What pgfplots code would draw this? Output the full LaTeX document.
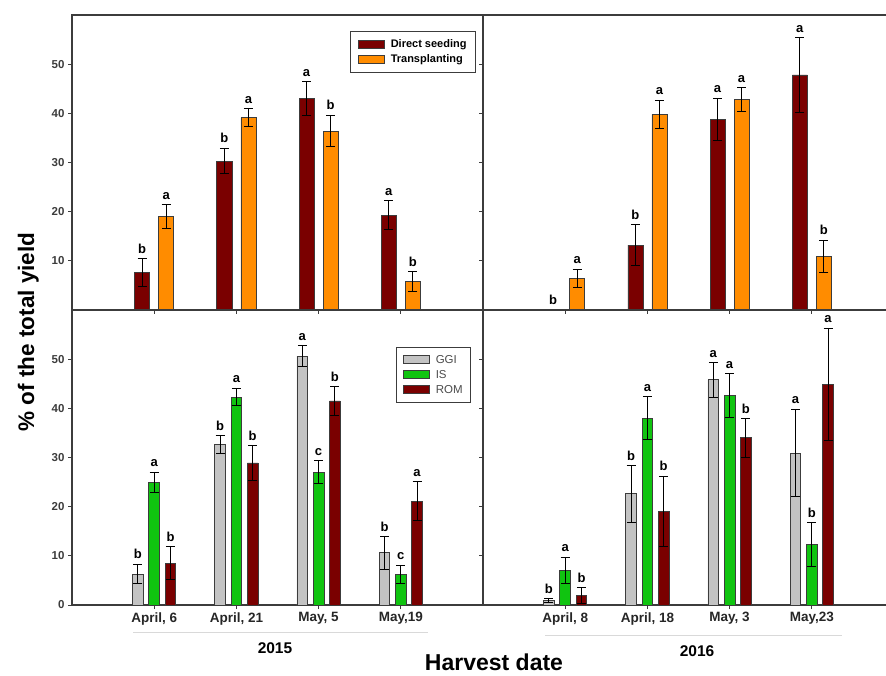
\documentclass[border=0pt]{standalone}
\usepackage{fontspec}
\setmainfont{Liberation Sans}
\usepackage{pgfplots}
\usepackage{pgfplotstable}
\pgfplotsset{compat=1.18}
\definecolor{dsred}{RGB}{122,0,0}
\definecolor{tporange}{RGB}{255,140,0}
\definecolor{ggigray}{RGB}{195,195,195}
\definecolor{isgreen}{RGB}{16,196,16}
\definecolor{axgray}{RGB}{60,60,60}

\pgfplotstableread{
x y e l
1 7.6 2.9 b
2 30.3 2.6 b
3 43.0 3.5 a
4 19.3 2.9 a
}\dsA
\pgfplotstableread{
x y e l
1 19.0 2.4 a
2 39.1 1.8 a
3 36.4 3.2 b
4 5.8 2.0 b
}\tpA
\pgfplotstableread{
x y e l
1 0 0 b
2 13.2 4.2 b
3 38.8 4.3 a
4 47.8 7.6 a
}\dsB
\pgfplotstableread{
x y e l
1 6.4 1.9 a
2 39.8 2.9 a
3 42.8 2.4 a
4 10.9 3.3 b
}\tpB
\pgfplotstableread{
x y e l
1 6.3 2.0 b
2 32.7 1.8 b
3 50.6 2.1 a
4 10.6 3.3 b
}\ggiA
\pgfplotstableread{
x y e l
1 24.9 2.1 a
2 42.3 1.8 a
3 27.0 2.3 c
4 6.2 1.9 c
}\isA
\pgfplotstableread{
x y e l
1 8.5 3.3 b
2 28.9 3.5 b
3 41.5 2.9 b
4 21.1 4.0 a
}\romA
\pgfplotstableread{
x y e l
1 0.9 0.4 b
2 22.6 5.8 b
3 45.8 3.5 a
4 30.9 8.9 a
}\ggiB
\pgfplotstableread{
x y e l
1 7.0 2.7 a
2 38.0 4.4 a
3 42.6 4.5 a
4 12.3 4.4 b
}\isB
\pgfplotstableread{
x y e l
1 1.9 1.6 b
2 19.1 7.1 b
3 34.0 3.9 b
4 44.9 11.4 a
}\romB

\pgfplotsset{
  panel/.style={scale only axis, width=411pt, height=295pt,
    xmin=0, xmax=5, ymin=0, ymax=60, anchor=south west,
    xtick={1,2,3,4}, tick align=outside, xtick pos=bottom, ytick pos=left,
    major tick length=4pt,
    axis line style={axgray, line width=1.1pt},
    tick style={axgray, line width=0.9pt},
    /pgf/number format/assume math mode=true,
    yticklabel style={font=\bfseries\fontsize{11.5}{12}\selectfont, text=axgray},
    xticklabel style={font=\bfseries\fontsize{13.5}{16}\selectfont, text=black!85},
    clip=false,
    legend image code/.code={\draw[#1] (0pt,-4pt) rectangle (26pt,4pt); \path (-1pt,0pt) (30pt,0pt);},
    legend cell align=left,
  },
  bars/.style={ybar, bar width=#1, bar shift=0pt, draw=axgray, line width=0.8pt,
    error bars/y dir=both, error bars/y explicit,
    error bars/error bar style={black, line width=1pt},
    error bars/error mark options={rotate=90, mark size=4.5pt, black, line width=1pt},
    point meta=explicit symbolic, nodes near coords,
    visualization depends on={\thisrow{e} \as \errval},
    every node near coord/.append style={shift={(axis direction cs:0,\errval)},
      font=\bfseries\fontsize{13}{13}\selectfont, text=black, yshift=1.5pt},
  },
}

\begin{document}
\begin{tikzpicture}
\path[use as bounding box] (0,0) rectangle (886pt,675pt);

% top-left: 2015 direct seeding vs transplanting
\begin{axis}[panel, at={(72pt,365pt)}, ytick={10,20,30,40,50}, xticklabels={},
  legend style={at={(rel axis cs:0.983,0.946)}, anchor=north east, draw=axgray,
    line width=0.9pt, font=\bfseries\fontsize{11}{13}\selectfont,
    inner xsep=7pt, inner ysep=6pt, row sep=2pt}]
\addplot[bars=15pt, fill=dsred] table[x expr=\thisrow{x}-0.146, y=y, y error=e, meta=l] {\dsA};
\addlegendentry{Direct seeding}
\addplot[bars=15pt, fill=tporange] table[x expr=\thisrow{x}+0.146, y=y, y error=e, meta=l] {\tpA};
\addlegendentry{Transplanting}
\end{axis}

% top-right: 2016
\begin{axis}[panel, at={(483pt,365pt)}, ytick={10,20,30,40,50}, xticklabels={}, yticklabels={}]
\addplot[bars=15pt, fill=dsred] table[x expr=\thisrow{x}-0.146, y=y, y error=e, meta=l] {\dsB};
\addplot[bars=15pt, fill=tporange] table[x expr=\thisrow{x}+0.146, y=y, y error=e, meta=l] {\tpB};
\end{axis}

% bottom-left: 2015 GGI IS ROM
\begin{axis}[panel, at={(72pt,70pt)}, ytick={0,10,20,30,40,50},
  xticklabels={{April, 6},{April, 21},{May, 5},{May,19}},
  legend style={at={(rel axis cs:0.971,0.876)}, anchor=north east, draw=axgray,
    line width=0.9pt, font=\fontsize{11.5}{13}\selectfont, text=black!70,
    inner xsep=6pt, inner ysep=6pt, row sep=1.5pt}]
\addplot[bars=10.7pt, fill=ggigray] table[x expr=\thisrow{x}-0.198, y=y, y error=e, meta=l] {\ggiA};
\addlegendentry{GGI}
\addplot[bars=10.7pt, fill=isgreen] table[x=x, y=y, y error=e, meta=l] {\isA};
\addlegendentry{IS}
\addplot[bars=10.7pt, fill=dsred] table[x expr=\thisrow{x}+0.198, y=y, y error=e, meta=l] {\romA};
\addlegendentry{ROM}
\end{axis}

% bottom-right: 2016
\begin{axis}[panel, at={(483pt,70pt)}, ytick={0,10,20,30,40,50}, yticklabels={},
  xticklabels={{April, 8},{April, 18},{May, 3},{May,23}}]
\addplot[bars=10.7pt, fill=ggigray] table[x expr=\thisrow{x}-0.198, y=y, y error=e, meta=l] {\ggiB};
\addplot[bars=10.7pt, fill=isgreen] table[x=x, y=y, y error=e, meta=l] {\isB};
\addplot[bars=10.7pt, fill=dsred] table[x expr=\thisrow{x}+0.198, y=y, y error=e, meta=l] {\romB};
\end{axis}

\draw[black!15, line width=1pt] (133pt,43pt) -- (428pt,43pt);
\draw[black!15, line width=1pt] (545pt,40pt) -- (842pt,40pt);
\node[font=\bfseries\fontsize{15.5}{16}\selectfont] at (275pt,27pt) {2015};
\node[font=\bfseries\fontsize{15.5}{16}\selectfont] at (697pt,24pt) {2016};
\node[font=\bfseries\fontsize{23}{24}\selectfont, anchor=base, inner sep=0pt] at (494pt,5pt) {Harvest date};
\node[font=\bfseries\fontsize{22.5}{24}\selectfont, anchor=base, rotate=90] at (34pt,343pt) {\% of the total yield};
\end{tikzpicture}
\end{document}
